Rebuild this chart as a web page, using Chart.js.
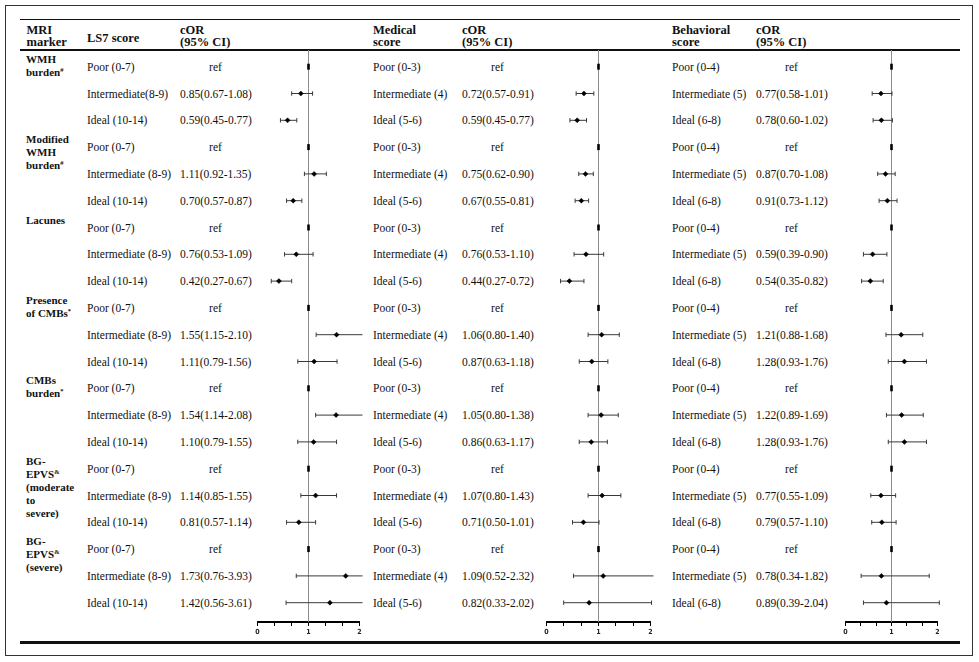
<!DOCTYPE html>
<html><head><meta charset="utf-8">
<script src="https://cdn.jsdelivr.net/npm/chart.js@4.4.1/dist/chart.umd.min.js"></script>
<style>
body{margin:0;width:979px;height:662px;background:#fff;position:relative;overflow:hidden;font-family:"Liberation Serif","Times New Roman",serif;color:#111;}
.t{position:absolute;white-space:nowrap;font-size:11.5px;line-height:12px;}
.h{position:absolute;white-space:nowrap;font-size:12.5px;font-weight:bold;line-height:11.7px;}
.m{position:absolute;white-space:nowrap;font-size:11px;font-weight:bold;line-height:13px;}
.m sup,.h sup{font-size:6.5px;vertical-align:4px;line-height:0;}
.ln{position:absolute;background:#111;}
.wrap{position:absolute;}
</style></head><body>
<div style="position:absolute;left:5px;top:5px;width:966px;height:649px;border:1.5px solid #333;"></div>
<div class="ln" style="left:20px;top:18.5px;width:940px;height:1.3px;"></div>
<div class="ln" style="left:20px;top:49px;width:940px;height:2.2px;"></div>
<div class="ln" style="left:20px;top:641px;width:940px;height:2.6px;"></div>
<script>
// ---------- DATA ----------
const markerLabels = [
  ["WMH","burden<sup>#</sup>"],
  ["Modified","WMH","burden<sup>#</sup>"],
  ["Lacunes"],
  ["Presence","of CMBs<sup>*</sup>"],
  ["CMBs","burden<sup>*</sup>"],
  ["BG-","EPVS<sup>&amp;</sup>","(moderate","to","severe)"],
  ["BG-","EPVS<sup>&amp;</sup>","(severe)"]
];
const headers = [
  {x:26.5, lines:["MRI","marker"]},
  {x:87, lines:["LS7 score"], single:true},
  {x:180, lines:["cOR","(95% CI)"]},
  {x:373, lines:["Medical","score"]},
  {x:462, lines:["cOR","(95% CI)"]},
  {x:672, lines:["Behavioral","score"]},
  {x:756, lines:["cOR","(95% CI)"]}
];
const ls7Labels = [
  "Poor (0-7)","Intermediate(8-9)","Ideal (10-14)",
  "Poor (0-7)","Intermediate (8-9)","Ideal (10-14)",
  "Poor (0-7)","Intermediate (8-9)","Ideal (10-14)",
  "Poor (0-7)","Intermediate (8-9)","Ideal (10-14)",
  "Poor (0-7)","Intermediate (8-9)","Ideal (10-14)",
  "Poor (0-7)","Intermediate (8-9)","Ideal (10-14)",
  "Poor (0-7)","Intermediate (8-9)","Ideal (10-14)"
];
const medLabels = Array(7).fill(["Poor (0-3)","Intermediate (4)","Ideal (5-6)"]).flat();
const behLabels = Array(7).fill(["Poor (0-4)","Intermediate (5)","Ideal (6-8)"]).flat();

const ls7OR = [null,0.85,0.59, null,1.11,0.70, null,0.76,0.42, null,1.55,1.11, null,1.54,1.10, null,1.14,0.81, null,1.73,1.42];
const ls7Lo = [null,0.67,0.45, null,0.92,0.57, null,0.53,0.27, null,1.15,0.79, null,1.14,0.79, null,0.85,0.57, null,0.76,0.56];
const ls7Hi = [null,1.08,0.77, null,1.35,0.87, null,1.09,0.67, null,2.10,1.56, null,2.08,1.55, null,1.55,1.14, null,3.93,3.61];

const medOR = [null,0.72,0.59, null,0.75,0.67, null,0.76,0.44, null,1.06,0.87, null,1.05,0.86, null,1.07,0.71, null,1.09,0.82];
const medLo = [null,0.57,0.45, null,0.62,0.55, null,0.53,0.27, null,0.80,0.63, null,0.80,0.63, null,0.80,0.50, null,0.52,0.33];
const medHi = [null,0.91,0.77, null,0.90,0.81, null,1.10,0.72, null,1.40,1.18, null,1.38,1.17, null,1.43,1.01, null,2.32,2.02];

const behOR = [null,0.77,0.78, null,0.87,0.91, null,0.59,0.54, null,1.21,1.28, null,1.22,1.28, null,0.77,0.79, null,0.78,0.89];
const behLo = [null,0.58,0.60, null,0.70,0.73, null,0.39,0.35, null,0.88,0.93, null,0.89,0.93, null,0.55,0.57, null,0.34,0.39];
const behHi = [null,1.01,1.02, null,1.08,1.12, null,0.90,0.82, null,1.68,1.76, null,1.69,1.76, null,1.09,1.10, null,1.82,2.04];

const axisTickValues = [0,1,2];
// ---------- LAYOUT ----------
const ROW0 = 66.7, ROWH = 26.8;
const rowY = i => ROW0 + ROWH*i;
const AREA_TOP = 50, AREA_BOTTOM = 622;
const YMIN = (AREA_TOP - ROW0)/ROWH, YMAX = (AREA_BOTTOM - ROW0)/ROWH;

function addDiv(cls, html, left, top, extra){
  const d = document.createElement('div');
  d.className = cls; d.innerHTML = html;
  d.style.left = left + 'px'; d.style.top = top + 'px';
  if (extra) Object.assign(d.style, extra);
  document.body.appendChild(d);
  return d;
}
headers.forEach(h=>{
  if (h.single) addDiv('h', h.lines[0], h.x, 33);
  else h.lines.forEach((l,k)=>addDiv('h', l, h.x, 25 + k*11.7));
});
markerLabels.forEach((lines,g)=>{
  const c = rowY(g*3) - 7.5;
  lines.forEach((l,k)=>addDiv('m', l, 26, c + k*13 - 6.5));
});
function fmt(v){ return v.toFixed(2); }
function panelText(labels, or, lo, hi, labelX, corX){
  labels.forEach((lab,i)=>{
    const top = rowY(i) - 6;
    addDiv('t', lab, labelX, top);
    if (or[i] === null) addDiv('t', 'ref', corX + 35.5, top, {transform:'translateX(-50%)'});
    else addDiv('t', fmt(or[i]) + '(' + fmt(lo[i]) + '-' + fmt(hi[i]) + ')', corX, top);
  });
}
panelText(ls7Labels, ls7OR, ls7Lo, ls7Hi, 87, 180);
panelText(medLabels, medOR, medLo, medHi, 373, 462);
panelText(behLabels, behOR, behLo, behHi, 672, 756);

// ---------- CHARTS ----------
function makePanel(x0, x2, or, lo, hi){
  const padL = 14.5, padR = 13.5, topC = 40, hC = 605;
  const wrap = document.createElement('div');
  wrap.className = 'wrap';
  wrap.style.left = (x0 - 14) + 'px'; wrap.style.top = topC + 'px';
  wrap.style.width = (x2 - x0 + 28) + 'px'; wrap.style.height = hC + 'px';
  const cv = document.createElement('canvas');
  wrap.appendChild(cv); document.body.appendChild(wrap);
  const whisk = [], est = [], refs = [];
  or.forEach((v,i)=>{
    if (v === null) refs.push({x:1, y:i});
    else { est.push({x:v, y:i}); whisk.push({x:lo[i], y:i}, {x:hi[i], y:i}, {x:null, y:null}); }
  });
  new Chart(cv, {
    type:'scatter',
    data:{datasets:[
      {data:[{x:1,y:YMIN},{x:1,y:YMAX}], showLine:true, borderColor:'#8c8c8c', borderWidth:1, pointRadius:0, clip:false, order:10},
      {data:whisk, showLine:true, spanGaps:false, borderColor:'#3a3a3a', borderWidth:1,
       pointStyle:'line', rotation:90, pointRadius:2.2, pointBorderColor:'#3a3a3a', pointBorderWidth:1,
       clip:{left:5, top:5, right:3, bottom:5}, order:5},
      {data:refs, pointStyle:'line', rotation:90, pointRadius:3, pointBorderColor:'#000', pointBorderWidth:2.6, clip:false, order:1},
      {data:est, pointStyle:'rectRot', pointRadius:2.5, pointBackgroundColor:'#000', pointBorderColor:'#000', pointBorderWidth:0.5, clip:false, order:0}
    ]},
    options:{
      responsive:true, maintainAspectRatio:false, animation:false, events:[],
      layout:{padding:{left:padL, right:padR, top:AREA_TOP - topC, bottom:0}, autoPadding:false},
      plugins:{legend:{display:false}, tooltip:{enabled:false}},
      scales:{
        x:{type:'linear', min:0, max:2, position:'bottom',
           afterFit:(s)=>{ s.height = topC + hC - AREA_BOTTOM; },
           border:{display:true, color:'#000', width:2},
           grid:{drawOnChartArea:false, drawTicks:true, tickLength:4, color:'#000', tickWidth:1},
           ticks:{stepSize:1/3, autoSkip:false, maxRotation:0, padding:2, color:'#222',
                  font:{size:7, weight:'bold', family:'"Liberation Sans Narrow","DejaVu Sans Condensed",sans-serif'},
                  callback:(v)=>{ const r = Math.round(v); return (Math.abs(v - r) < 1e-6 && axisTickValues.includes(r)) ? String(r) : ''; }}
        },
        y:{type:'linear', display:false, min:YMIN, max:YMAX, reverse:true}
      }
    }
  });
}
makePanel(257, 359, ls7OR, ls7Lo, ls7Hi);
makePanel(546, 650, medOR, medLo, medHi);
makePanel(845, 937, behOR, behLo, behHi);
</script>
</body></html>
